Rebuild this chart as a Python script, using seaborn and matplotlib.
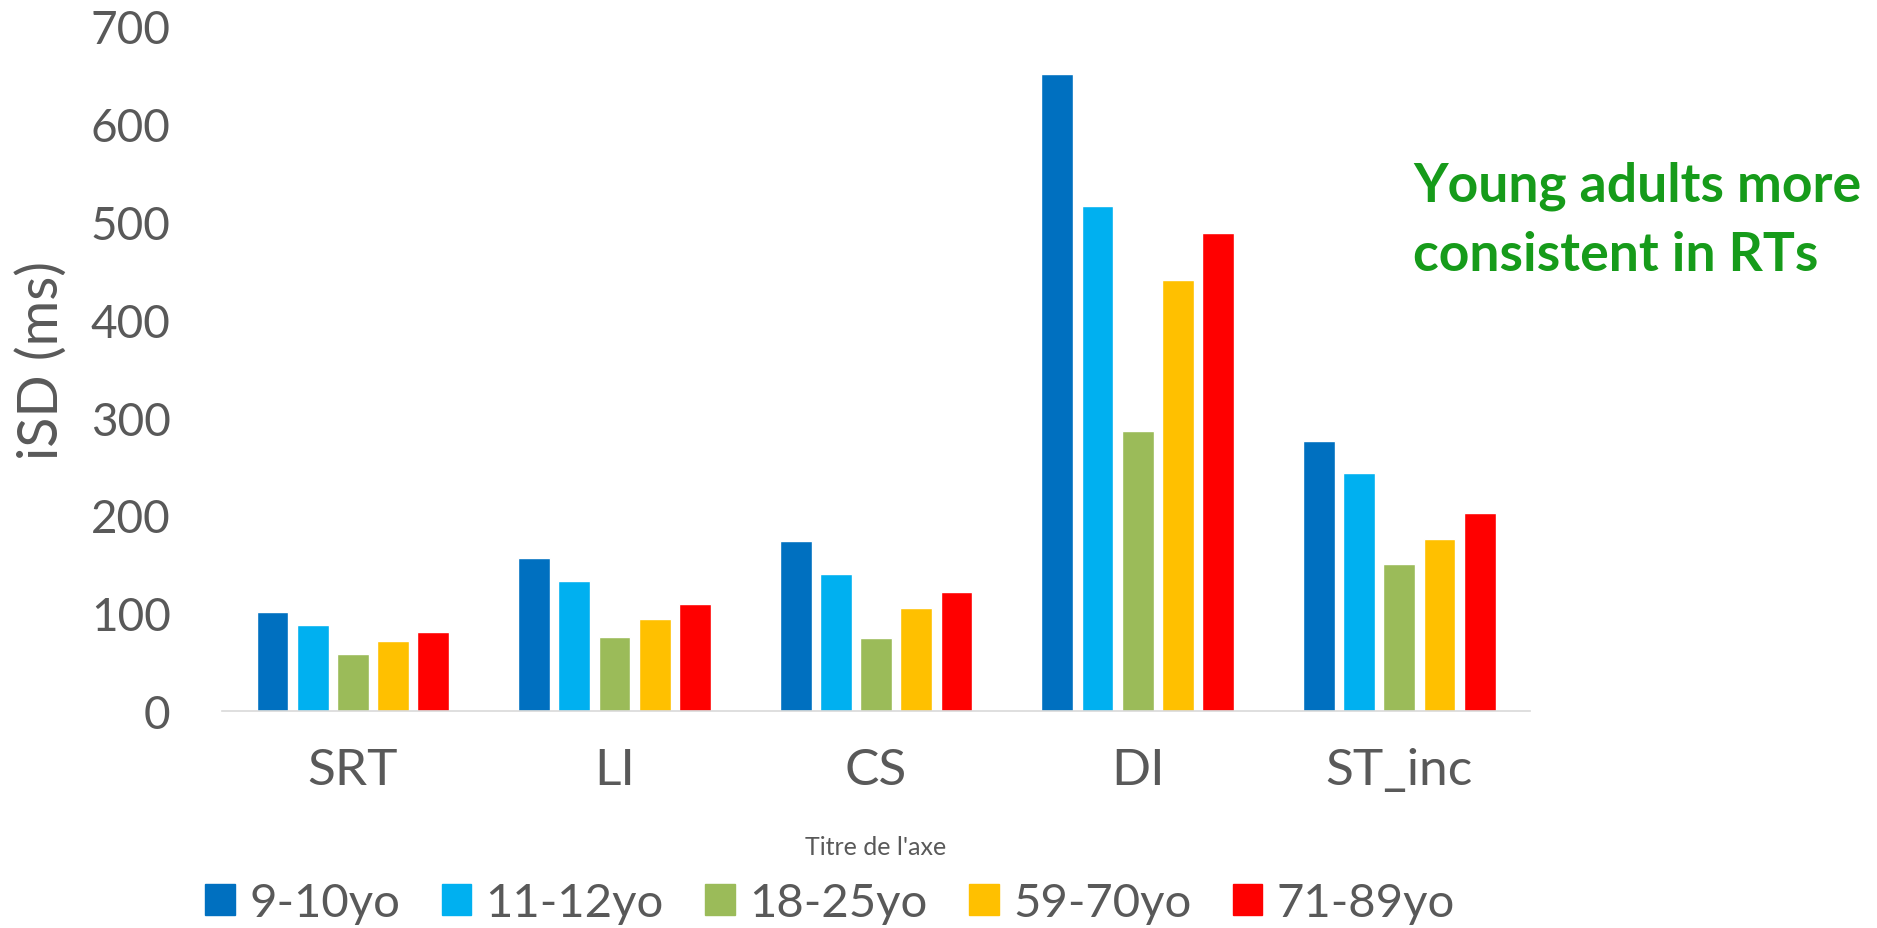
import matplotlib
matplotlib.use("Agg")
import matplotlib.pyplot as plt
import seaborn as sns
import pandas as pd

# Intra-individual standard deviation of reaction times, by task and age group
tasks = ["SRT", "LI", "CS", "DI", "ST_inc"]
groups = ["9-10yo", "11-12yo", "18-25yo", "59-70yo", "71-89yo"]
isd_9_10 = [101, 157, 174, 651, 276]
isd_11_12 = [88, 133, 140, 516, 243]
isd_18_25 = [59, 75.5, 75, 286, 150]
isd_59_70 = [71.5, 94, 105.5, 440, 176]
isd_71_89 = [81, 110, 122, 488, 203]
colors = ["#0070C0", "#00B0F0", "#9BBB59", "#FFC000", "#FF0000"]
y_ticks = [0, 100, 200, 300, 400, 500, 600, 700]

series = [isd_9_10, isd_11_12, isd_18_25, isd_59_70, isd_71_89]
df = pd.DataFrame(
    [(t, g, v) for g, vals in zip(groups, series) for t, v in zip(tasks, vals)],
    columns=["task", "group", "isd"],
)

sns.set_theme(style="white")
plt.rcParams["font.family"] = ["Lato", "DejaVu Sans"]
text_grey = "#595959"

fig = plt.figure(figsize=(18.77, 9.29), dpi=100)
ax = fig.add_axes([0.1183, 0.2333, 0.6969, 0.7377])

sns.barplot(
    data=df, x="task", y="isd", hue="group", order=tasks, hue_order=groups,
    palette=colors, width=0.768, gap=0.21, saturation=1, ax=ax,
    errorbar=None, legend=True,
)

ax.set_ylim(0, 700)
ax.set_yticks(y_ticks)
ax.tick_params(axis="y", length=0, pad=37, labelsize=33, labelcolor=text_grey)
ax.tick_params(axis="x", length=0, pad=26, labelsize=37, labelcolor=text_grey)

for side in ["top", "right", "left"]:
    ax.spines[side].set_visible(False)
ax.spines["bottom"].set_color("#D9D9D9")
ax.spines["bottom"].set_linewidth(1.2)

ax.set_ylabel("iSD (ms)", fontsize=40, color=text_grey, va="center")
ax.yaxis.set_label_coords(-0.1376, 0.5126)
ax.set_xlabel("Titre de l'axe", fontsize=18, color=text_grey, va="center")
ax.xaxis.set_label_coords(0.5, -0.198)

ax.legend_.remove()
handles = [plt.Rectangle((0, 0), 1, 1, color=c) for c in colors]
fig.legend(
    handles, groups, loc="center", bbox_to_anchor=(0.4422, 0.0269), ncol=5,
    frameon=False, fontsize=34, labelcolor=text_grey,
    handlelength=0.63, handleheight=0.63, handletextpad=0.3,
    columnspacing=0.88, borderpad=0, borderaxespad=0,
)

fig.text(
    0.7528, 0.826, "Young adults more\nconsistent in RTs",
    fontsize=38.5, fontweight="bold", color="#169B1A",
    ha="left", va="top", linespacing=1.5,
)

fig.savefig("out.png", dpi=100)
